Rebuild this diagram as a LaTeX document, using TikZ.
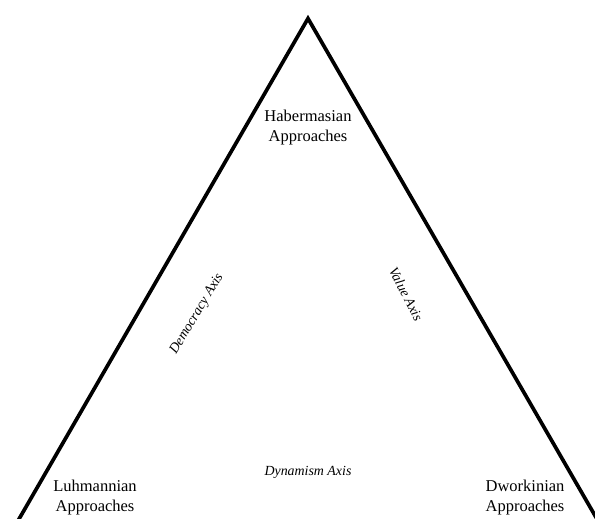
\documentclass[tikz,border=0pt]{standalone}
\usepackage{fontspec}
\setmainfont{Liberation Serif}
\usetikzlibrary{calc}
\tikzset{
  corner/.style={font=\fontsize{16.5}{20}\selectfont, align=center, inner sep=0pt},
  axislabel/.style={font=\fontsize{13.9}{16}\selectfont\itshape, inner sep=0pt},
}
\begin{document}
\begin{tikzpicture}[x=1pt,y=1pt]
	\useasboundingbox (0,0) rectangle (595,519);
	\clip (0,0) rectangle (595,519);
	\coordinate (apex) at (308,500.5);
	\coordinate (lfoot) at ($(apex)+(240:600)$);
	\coordinate (rfoot) at ($(apex)+(300:600)$);
	\draw[line width=3.7pt, miter limit=20] (lfoot) -- (apex) -- (rfoot);
	\node[corner] (haber) at (308,391.6) {Habermasian\\Approaches};
	\node[corner] (luhm) at (95,21.6) {Luhmannian\\Approaches};
	\node[corner] (dwork) at (525,21.6) {Dworkinian\\Approaches};
	\node[axislabel, rotate=59] (democ) at (197,205) {Democracy Axis};
	\node[axislabel, rotate=-63] (value) at (406,225) {Value Axis};
	\node[axislabel, anchor=base] (dynam) at (308,43) {Dynamism Axis};
\end{tikzpicture}
\end{document}
